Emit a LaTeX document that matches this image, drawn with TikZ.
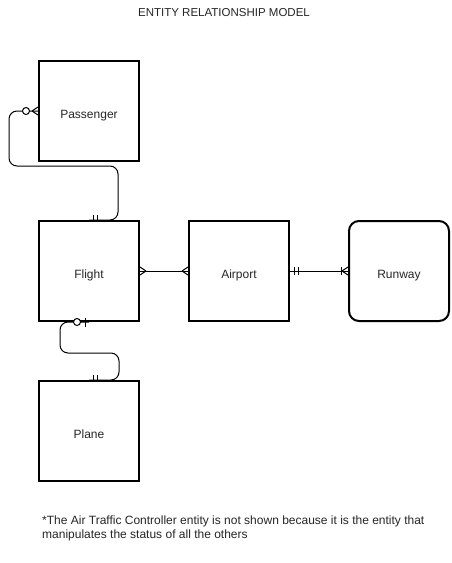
\documentclass[tikz,border=0pt]{standalone}
\usepackage{fontspec}
\setmainfont{Liberation Sans}
\usetikzlibrary{calc}
\begin{document}
\begin{tikzpicture}[x=1pt,y=-1pt,
  entity/.style={draw=black, line width=2pt, fill=white, minimum width=100pt, minimum height=100pt, inner sep=0pt, text height=14pt, text depth=0pt, font=\fontsize{12}{14}\selectfont, text=black!85},
  conn/.style={draw=black, line width=1pt},
  mk/.style={draw=black, line width=1pt},
  txt/.style={font=\fontsize{12}{14}\selectfont, text=black!85, inner sep=0pt}
]
\useasboundingbox[fill=white] (0,0) rectangle (452,563);

\node[txt] (title) at (224,13) {\fontsize{11.5}{14}\selectfont ENTITY RELATIONSHIP MODEL};

\node[entity] (pass) at (89,111) {Passenger};
\node[entity] (flight) at (89,271) {Flight};
\node[entity] (airport) at (239,271) {Airport};
\node[entity, rounded corners=10pt] (runway) at (399,271) {Runway};
\node[entity] (plane) at (89,431) {Plane};

\node[txt, anchor=west, align=left] (note) at (42,528) {*The Air Traffic Controller entity is not shown because it is the entity that\\manipulates the status of all the others};

% Passenger -- Flight
\draw[conn, rounded corners=8pt] (pass.west) -- ++(-29,0) |- ++(109,55) |- (flight.north);
\draw[mk] ($(pass.west)+(-6,0)$) -- ($(pass.west)+(0,-4)$)
          ($(pass.west)+(-6,0)$) -- ($(pass.west)+(0,4)$);
\draw[mk, fill=white] ($(pass.west)+(-12,0)$) circle (3.5pt);
\draw[mk] ($(flight.north)+(4,-5)$) -- ++(0,5) ($(flight.north)+(8,-5)$) -- ++(0,5);

% Flight -- Plane
\draw[conn, rounded corners=8pt] (flight.south) -- ++(-29,0) |- ++(59,31) |- (plane.north);
\draw[mk] ($(flight.south)+(-4,-4)$) -- ++(0,9);
\draw[mk, fill=white] ($(flight.south)+(-12,0)$) circle (3.5pt);
\draw[mk] ($(plane.north)+(4,-5)$) -- ++(0,5) ($(plane.north)+(8,-5)$) -- ++(0,5);

% Flight -- Airport
\draw[conn] (flight.east) -- (airport.west);
\draw[mk] ($(flight.east)+(6,0)$) -- ($(flight.east)+(0,-4)$)
          ($(flight.east)+(6,0)$) -- ($(flight.east)+(0,4)$);
\draw[mk] ($(airport.west)+(-6,0)$) -- ($(airport.west)+(0,-4)$)
          ($(airport.west)+(-6,0)$) -- ($(airport.west)+(0,4)$);

% Airport -- Runway
\draw[conn] (airport.east) -- (runway.west);
\draw[mk] ($(airport.east)+(4,-4)$) -- ++(0,8) ($(airport.east)+(8,-4)$) -- ++(0,8);
\draw[mk] ($(runway.west)+(-7,-4)$) -- ++(0,8);
\draw[mk] ($(runway.west)+(-6,0)$) -- ($(runway.west)+(0,-4)$)
          ($(runway.west)+(-6,0)$) -- ($(runway.west)+(0,4)$);
\end{tikzpicture}
\end{document}
